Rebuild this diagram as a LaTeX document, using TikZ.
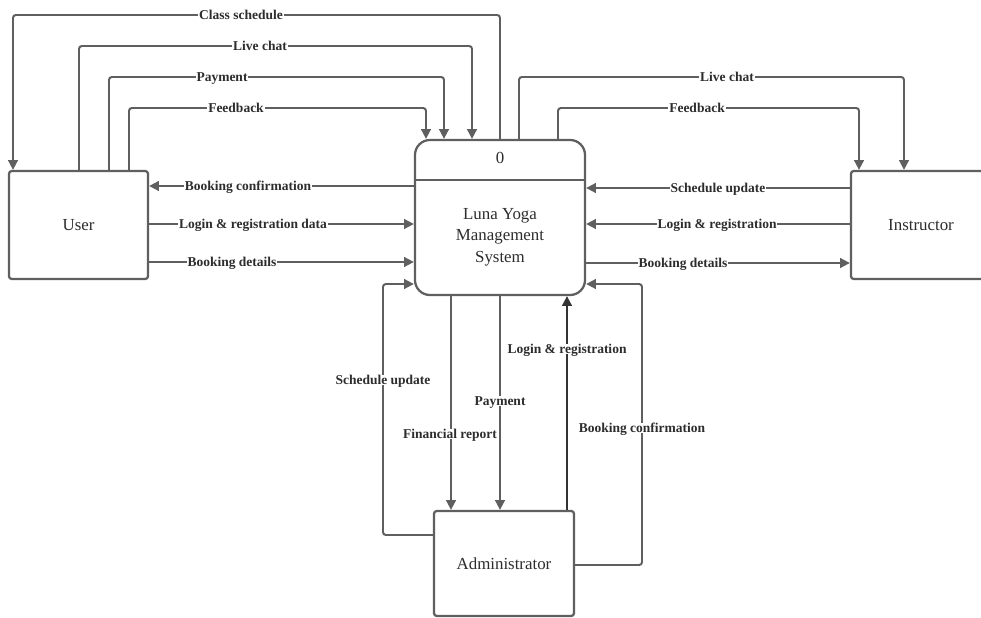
\documentclass[tikz,border=0pt]{standalone}
\usepackage{fontspec}
\setmainfont{Liberation Serif}
\usetikzlibrary{positioning}
\usetikzlibrary{arrows.meta}
\usepackage{xcolor}

\definecolor{linegray}{RGB}{95,95,95}
\definecolor{textgray}{RGB}{45,45,45}

\tikzset{
  entity/.style={draw=linegray, line width=1.6pt, rounded corners=2pt, fill=white, text=textgray, font=\fontsize{12}{15.4}\selectfont},
  flow/.style={draw=linegray, line width=1.4pt, rounded corners=2pt, -{Triangle[length=7pt,width=7pt]}},
  lbl/.style={fill=white, text=textgray, font=\bfseries\fontsize{9.6}{11}\selectfont, inner sep=0.6pt, text height=6.5pt, text depth=0pt},
}

\begin{document}
\begin{tikzpicture}[x=0.025cm,y=-0.025cm]

\clip (0,0) rectangle (981,618);

\node[entity, minimum width=3.475cm, minimum height=2.7cm] (user) at (78.5,225) {User};
\node[entity, minimum width=3.5cm, minimum height=2.7cm] (instr) at (921,225) {Instructor};
\node[entity, minimum width=3.5cm, minimum height=2.625cm] (admin) at (504,563.5) {Administrator};
\node[entity, rounded corners=0.375cm, minimum width=4.25cm, minimum height=3.875cm] (sys) at (500,217.5) {};

\draw[linegray, line width=1.6pt] (sys.west |- 0,180) -- (sys.east |- 0,180);
\node[text=textgray, font=\fontsize{12}{15.4}\selectfont] (num) at (500,158) {0};
\node[text=textgray, align=center, font=\fontsize{12}{15.4}\selectfont] (name) at (500,237) {Luna Yoga\\Management\\System};

% user <-> system, over the top
\draw[flow] (sys.north) |- (13,15) -- (user.north -| 13,0);
\draw[flow] (user.north -| 79,0) |- (472,46) -- (sys.north -| 472,0);
\draw[flow] (user.north -| 109,0) |- (444,77) -- (sys.north -| 444,0);
\draw[flow] (user.north -| 129,0) |- (426,108) -- (sys.north -| 426,0);

% system -> instructor, over the top
\draw[flow] (sys.north -| 519,0) |- (904,77) -- (instr.north -| 904,0);
\draw[flow] (sys.north -| 558,0) |- (859,108) -- (instr.north -| 859,0);

\draw[flow] (sys.west |- 0,186) -- (user.east |- 0,186);
\draw[flow] (user.east |- 0,224) -- (sys.west |- 0,224);
\draw[flow] (user.east |- 0,262) -- (sys.west |- 0,262);

\draw[flow] (instr.west |- 0,188) -- (sys.east |- 0,188);
\draw[flow] (instr.west |- 0,224) -- (sys.east |- 0,224);
\draw[flow] (sys.east |- 0,263) -- (instr.west |- 0,263);

% administrator
\draw[flow] (admin.west |- 0,535) -| (383,284) -- (sys.west |- 0,284);
\draw[flow] (sys.south -| 451,0) -- (admin.north -| 451,0);
\draw[flow] (sys.south) -- (admin.north -| 500,0);
\draw[flow, draw=black!80] (admin.north -| 567,0) -- (sys.south -| 567,0);
\draw[flow] (admin.east |- 0,565) -| (642,284) -- (sys.east |- 0,284);

\node[lbl] at (241,15) {Class schedule};
\node[lbl] at (260,46) {Live chat};
\node[lbl] at (222,77) {Payment};
\node[lbl] at (236,108) {Feedback};
\node[lbl] at (727,77) {Live chat};
\node[lbl] at (697,108) {Feedback};

\node[lbl] at (248,186) {Booking confirmation};
\node[lbl] at (253,224) {Login \& registration data};
\node[lbl] at (232,262) {Booking details};
\node[lbl] at (718,188) {Schedule update};
\node[lbl] at (717,224) {Login \& registration};
\node[lbl] at (683,263) {Booking details};

\node[lbl] at (383,380) {Schedule update};
\node[lbl] at (450,434) {Financial report};
\node[lbl] at (500,401) {Payment};
\node[lbl] at (567,349) {Login \& registration};
\node[lbl] at (642,428) {Booking confirmation};

\end{tikzpicture}
\end{document}
